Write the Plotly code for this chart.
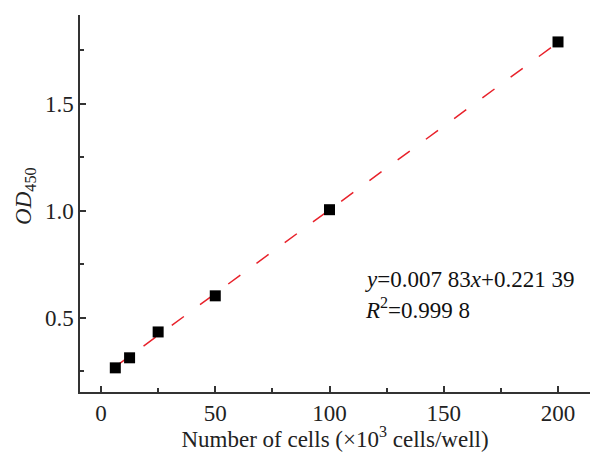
import plotly.graph_objects as go

cells = [6.25, 12.5, 25, 50, 100, 200]
od450 = [0.265, 0.312, 0.433, 0.602, 1.005, 1.79]
slope = 0.00783
intercept = 0.22139
fit_x = [6.25, 200]
fit_y = [slope * v + intercept for v in fit_x]

font = "Liberation Serif, Times New Roman, serif"
FS = 23

fig = go.Figure()
fig.add_trace(go.Scatter(x=fit_x, y=fit_y, mode="lines",
                         line=dict(color="#e8212a", width=1.5, dash="15px,20px"),
                         showlegend=False))
fig.add_trace(go.Scatter(x=cells, y=od450, mode="markers",
                         marker=dict(symbol="square", size=11, color="black"),
                         showlegend=False))

fig.add_annotation(xref="x", yref="y", x=114.5, y=0.678, xanchor="left", yanchor="middle",
                   text="<i>y</i>=0.007 83<i>x</i>+0.221 39", showarrow=False,
                   font=dict(family=font, size=FS, color="#111"))
fig.add_annotation(xref="x", yref="y", x=114.5, y=0.545, xanchor="left", yanchor="middle",
                   text="<i>R</i><sup>2</sup>=0.999 8", showarrow=False,
                   font=dict(family=font, size=FS, color="#111"))
fig.add_annotation(xref="paper", yref="paper", x=-0.108, y=0.52, xanchor="center",
                   yanchor="middle", textangle=-90, showarrow=False,
                   text="<i>OD</i><sub>450</sub>",
                   font=dict(family=font, size=FS, color="#222"))

axis_common = dict(showline=True, linecolor="#333", linewidth=1.5, ticks="inside",
                   ticklen=6, tickwidth=1.5, tickcolor="#333", showgrid=False,
                   zeroline=False, tickfont=dict(family=font, size=FS, color="#222"))

fig.update_xaxes(range=[-9.2, 214], tickvals=[0, 50, 100, 150, 200],
                 minor=dict(tickvals=[25, 75, 125, 175], ticks="inside", ticklen=4,
                            tickwidth=1.5, tickcolor="#333"),
                 title=dict(text="Number of cells (×10<sup>3</sup> cells/well)",
                            font=dict(family=font, size=FS, color="#222"), standoff=2),
                 **axis_common)
fig.update_yaxes(range=[0.152, 1.916], tickvals=[0.5, 1.0, 1.5],
                 ticktext=["0.5", "1.0", "1.5"],
                 minor=dict(tickvals=[0.25, 0.75, 1.25, 1.75], ticks="inside", ticklen=4,
                            tickwidth=1.5, tickcolor="#333"),
                 **axis_common)

fig.update_layout(width=592, height=452, margin=dict(l=80, r=2, t=15, b=60),
                  plot_bgcolor="white", paper_bgcolor="white")

fig.write_html("out.html")
